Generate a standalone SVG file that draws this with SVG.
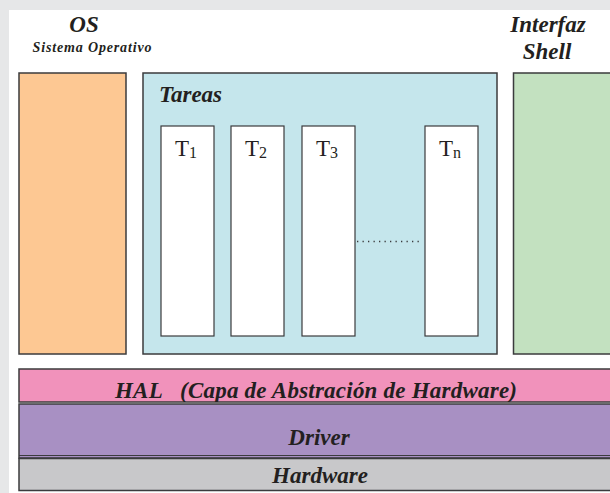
<svg xmlns="http://www.w3.org/2000/svg" width="610" height="493" viewBox="0 0 610 493" font-family="'Liberation Serif', serif">
  <style>
    .box { stroke: #3b3b3d; stroke-width: 1.5; }
    .task { fill: #ffffff; stroke: #3b3b3d; stroke-width: 1.2; }
    .title { font-weight: bold; font-style: italic; fill: #231f20; }
    .tlabel { fill: #231f20; font-size: 23px; }
    .sub { font-size: 16px; }
  </style>
  <defs>
    <clipPath id="halClip">
      <rect x="19" y="369" width="600" height="33"/>
    </clipPath>
  </defs>

  <!-- page background -->
  <rect x="0" y="0" width="610" height="493" fill="#e6e7e8"/>
  <rect x="9" y="10" width="601" height="483" fill="#ffffff"/>

  <!-- operating system column -->
  <g id="os">
    <text class="title" x="84" y="32" font-size="23" text-anchor="middle">OS</text>
    <text class="title" x="92" y="52" font-size="14" text-anchor="middle" textLength="119" lengthAdjust="spacing">Sistema Operativo</text>
    <rect class="box" x="19" y="73" width="107" height="281" fill="#fdc893"/>
  </g>

  <!-- tasks container -->
  <g id="tareas">
    <rect class="box" x="143" y="73" width="354" height="281" fill="#c5e6ec"/>
    <text class="title" x="159" y="102" font-size="23">Tareas</text>
  </g>

  <g id="t1">
    <rect class="task" x="161" y="126" width="53" height="210"/>
    <text class="tlabel" x="186" y="156" text-anchor="middle">T<tspan class="sub" dy="2">1</tspan></text>
  </g>
  <g id="t2">
    <rect class="task" x="231" y="126" width="53" height="210"/>
    <text class="tlabel" x="256" y="156" text-anchor="middle">T<tspan class="sub" dy="2">2</tspan></text>
  </g>
  <g id="t3">
    <rect class="task" x="302" y="126" width="53" height="210"/>
    <text class="tlabel" x="327" y="156" text-anchor="middle">T<tspan class="sub" dy="2">3</tspan></text>
  </g>
  <g id="tn">
    <rect class="task" x="425" y="126" width="53" height="210"/>
    <text class="tlabel" x="450" y="156" text-anchor="middle">T<tspan class="sub" dy="2">n</tspan></text>
  </g>

  <!-- ellipsis between T3 and Tn -->
  <g id="connectors">
    <line x1="357" y1="241.5" x2="420" y2="241.5" stroke="#3b3b3d" stroke-width="1.3" stroke-dasharray="1.3 4.2"/>
  </g>

  <!-- shell column -->
  <g id="shell">
    <text class="title" x="548" y="32" font-size="23" text-anchor="middle">Interfaz</text>
    <text class="title" x="547" y="59" font-size="23" text-anchor="middle">Shell</text>
    <rect class="box" x="513.5" y="73" width="110" height="281" fill="#c3e1c0"/>
  </g>

  <!-- hardware abstraction layer -->
  <g id="hal">
    <rect class="box" x="19" y="369" width="600" height="33" fill="#f192bb"/>
    <text class="title" x="316" y="398" font-size="23" text-anchor="middle" clip-path="url(#halClip)" xml:space="preserve" textLength="402" lengthAdjust="spacing">HAL   (Capa de Abstración de Hardware)</text>
  </g>

  <!-- driver layer -->
  <g id="driver">
    <rect x="19" y="404" width="600" height="54" fill="#a890c3" class="box"/>
    <line x1="19" y1="455.5" x2="610" y2="455.5" stroke="#3b3b3d" stroke-width="1.2"/>
    <text class="title" x="319" y="445" font-size="23" text-anchor="middle">Driver</text>
  </g>

  <!-- hardware layer -->
  <g id="hardware">
    <rect class="box" x="19" y="458.5" width="600" height="32" fill="#c8c8ca"/>
    <text class="title" x="320" y="483" font-size="23" text-anchor="middle">Hardware</text>
  </g>
</svg>
